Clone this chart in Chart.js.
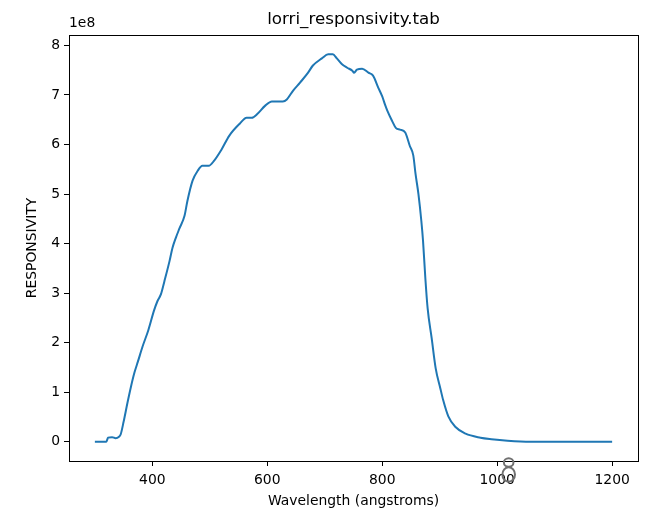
<!DOCTYPE html>
<html>
<head>
<meta charset="utf-8">
<script src="https://cdn.jsdelivr.net/npm/chart.js@4"></script>
<style>
  html, body { margin: 0; padding: 0; background: #fff; }
  #wrap { width: 654px; height: 508px; }
</style>
</head>
<body>
<div id="wrap"><canvas id="c" width="654" height="508"></canvas></div>
<script>
const wavelength = [300,320,323,330,336,342,345,350,357,363,369,375,383,393,403,409,415,421,430,435,441,447,456,461,470,479,487,498,508,520,534,552,564,573,583,596,608,627,634,645,657,671,679,695,706,714,721,730,739,748,751,756,765,776,784,793,800,805,809,817,824,831,840,848,854,858,863,868,871,875,879,886,893,901,906,915,927,945,971,990,1018,1058,1100,1150,1200];
const responsivity = [0,0,0.08e8,0.09e8,0.07e8,0.10e8,0.15e8,0.40e8,0.80e8,1.12e8,1.40e8,1.62e8,1.92e8,2.25e8,2.65e8,2.84e8,2.98e8,3.24e8,3.65e8,3.91e8,4.12e8,4.30e8,4.56e8,4.86e8,5.27e8,5.47e8,5.57e8,5.57e8,5.68e8,5.89e8,6.18e8,6.42e8,6.54e8,6.54e8,6.62e8,6.78e8,6.87e8,6.87e8,6.91e8,7.09e8,7.25e8,7.45e8,7.59e8,7.74e8,7.82e8,7.82e8,7.74e8,7.62e8,7.55e8,7.49e8,7.45e8,7.51e8,7.53e8,7.45e8,7.39e8,7.15e8,6.97e8,6.80e8,6.68e8,6.48e8,6.33e8,6.30e8,6.24e8,5.97e8,5.78e8,5.40e8,5.00e8,4.46e8,4.05e8,3.30e8,2.69e8,2.09e8,1.48e8,1.08e8,0.84e8,0.51e8,0.30e8,0.16e8,0.08e8,0.05e8,0.02e8,0,0,0,0];
const xTicks = [400,600,800,1000,1200];
const yTicks = [0,1e8,2e8,3e8,4e8,5e8,6e8,7e8,8e8];
const chartTitle = 'lorri_responsivity.tab';
const xLabel = 'Wavelength (angstroms)';
const yLabel = 'RESPONSIVITY';
const offsetLabel = '1e8';

const FONT = "'DejaVu Sans', sans-serif";

const framePlugin = {
  id: 'frame',
  afterDraw(chart) {
    const {ctx, chartArea: a, scales} = chart;
    ctx.save();
    ctx.strokeStyle = '#000';
    ctx.lineWidth = 1;
    ctx.strokeRect(Math.round(a.left) + 0.5, Math.round(a.top) + 0.5,
                   Math.round(a.right) - Math.round(a.left), Math.round(a.bottom) - Math.round(a.top));
    ctx.fillStyle = '#000';
    ctx.font = "16.7px " + FONT;
    ctx.textAlign = 'center';
    ctx.textBaseline = 'alphabetic';
    ctx.fillText(chartTitle, (a.left + a.right) / 2, a.top - 11);
    ctx.font = "13.9px " + FONT;
    ctx.textAlign = 'left';
    ctx.fillText(offsetLabel, a.left, a.top - 8);
    // stray grey glyph seen in reference
    const gx = scales.x.getPixelForValue(1020);
    ctx.strokeStyle = '#707070';
    ctx.lineWidth = 2;
    ctx.beginPath();
    ctx.ellipse(gx, a.bottom + 1.5, 4.8, 4.3, 0, 0, Math.PI * 2);
    ctx.stroke();
    ctx.beginPath();
    ctx.ellipse(gx, a.bottom + 13.5, 6.3, 7.3, 0, 0, Math.PI * 2);
    ctx.stroke();
    ctx.restore();
  }
};

new Chart(document.getElementById('c'), {
  type: 'line',
  data: {
    datasets: [{
      data: wavelength.map((w, i) => ({x: w, y: responsivity[i]})),
      borderColor: '#1f77b4',
      borderWidth: 2,
      pointRadius: 0,
      cubicInterpolationMode: 'monotone',
      fill: false
    }]
  },
  options: {
    responsive: false,
    animation: false,
    events: [],
    layout: { padding: { left: 0, right: 16, top: 35, bottom: 0 } },
    plugins: { legend: { display: false }, title: { display: false }, tooltip: { enabled: false } },
    scales: {
      x: {
        type: 'linear',
        min: 255, max: 1245,
        afterBuildTicks(s) { s.ticks = xTicks.map(v => ({value: v})); },
        afterFit(s) { s.height = 47; },
        ticks: { color: '#000', font: { family: FONT, size: 13.9 }, padding: 6, maxRotation: 0, autoSkip: false,
                 callback: v => String(v) },
        grid: { display: true, drawOnChartArea: false, drawTicks: true, tickLength: 5, color: '#000', lineWidth: 1 },
        border: { display: false },
        title: { display: true, text: xLabel, color: '#000', font: { family: FONT, size: 13.9 }, padding: { top: 0, bottom: -2 } }
      },
      y: {
        type: 'linear',
        min: -0.391e8, max: 8.211e8,
        afterBuildTicks(s) { s.ticks = yTicks.map(v => ({value: v})); },
        afterFit(s) { s.width = 69; },
        ticks: { color: '#000', font: { family: FONT, size: 13.9 }, padding: 4, autoSkip: false,
                 callback: v => String(Math.round(v / 1e8)) },
        grid: { display: true, drawOnChartArea: false, drawTicks: true, tickLength: 5, color: '#000', lineWidth: 1 },
        border: { display: false },
        title: { display: true, text: yLabel, color: '#000', font: { family: FONT, size: 13.9 }, padding: { top: 24, bottom: 0 } }
      }
    }
  },
  plugins: [framePlugin]
});
</script>
</body>
</html>
